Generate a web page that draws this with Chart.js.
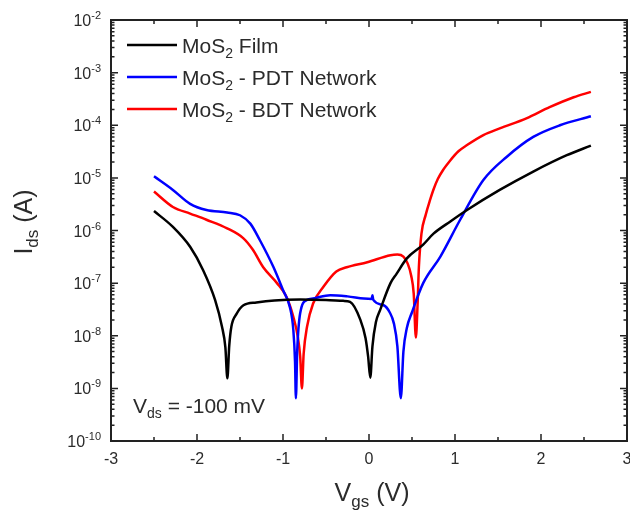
<!DOCTYPE html>
<html>
<head>
  <title>MoS2 transfer curves</title>
  <script src="https://cdn.jsdelivr.net/npm/chart.js@4.4.0/dist/chart.umd.min.js"></script>
  <style>
    body { margin: 0; background: #fff; }
    #wrap { width: 630px; height: 513px; }
  </style>
</head>
<body>
  <div id="wrap"><canvas id="chart" width="630" height="513"></canvas></div>

  <script>
// Vgs (V) and |Ids| (A)
var filmV = [-2.5, -2.28, -2.08, -1.93, -1.79, -1.71, -1.67, -1.647, -1.625, -1.6, -1.54, -1.46, -1.31, -1.1, -0.8, -0.5, -0.3, -0.22, -0.1, -0.04, -0.01, 0.015, 0.04, 0.08, 0.13, 0.25, 0.32, 0.44, 0.63, 0.75, 0.95, 1.14, 1.52, 1.91, 2.3, 2.58];
var filmI = [2.34e-6, 1.17e-6, 4.9e-7, 1.78e-7, 4.8e-8, 1.5e-8, 6.0e-9, 1.55e-9, 6.5e-9, 1.5e-8, 2.6e-8, 3.8e-8, 4.3e-8, 4.7e-8, 4.9e-8, 4.8e-8, 4.6e-8, 4.4e-8, 2.0e-8, 9.0e-9, 4.0e-9, 1.6e-9, 6.3e-9, 1.8e-8, 3.1e-8, 1.0e-7, 1.5e-7, 2.95e-7, 5.4e-7, 8.7e-7, 1.5e-6, 2.45e-6, 5.9e-6, 1.32e-5, 2.7e-5, 4.1e-5];

var pdtV = [-2.5, -2.28, -2.08, -1.89, -1.65, -1.5, -1.38, -1.27, -1.11, -1.0, -0.92, -0.88, -0.86, -0.85, -0.835, -0.8, -0.72, -0.65, -0.45, -0.25, -0.06, 0.03, 0.04, 0.05, 0.17, 0.24, 0.29, 0.33, 0.37, 0.4, 0.44, 0.5, 0.63, 0.83, 1.06, 1.33, 1.6, 1.91, 2.22, 2.58];
var pdtI = [1.07e-5, 5.9e-6, 3.2e-6, 2.45e-6, 2.2e-6, 1.95e-6, 1.35e-6, 6.6e-7, 2.0e-7, 7.4e-8, 3.5e-8, 1.3e-8, 3.2e-9, 6.5e-10, 5.0e-9, 2.7e-8, 4.8e-8, 5.1e-8, 5.9e-8, 5.6e-8, 5.1e-8, 5.0e-8, 5.9e-8, 4.8e-8, 3.8e-8, 2.8e-8, 1.7e-8, 6.3e-9, 6.5e-10, 5.0e-9, 1.4e-8, 2.8e-8, 1.0e-7, 3.2e-7, 1.6e-6, 9.1e-6, 2.5e-5, 6.0e-5, 1.0e-4, 1.48e-4];

var bdtV = [-2.5, -2.28, -2.08, -1.89, -1.65, -1.46, -1.35, -1.23, -1.07, -0.96, -0.88, -0.83, -0.8, -0.78, -0.76, -0.72, -0.65, -0.53, -0.38, -0.26, -0.02, 0.25, 0.33, 0.4, 0.45, 0.49, 0.52, 0.545, 0.565, 0.58, 0.61, 0.66, 0.71, 0.75, 0.8, 0.87, 0.94, 1.04, 1.14, 1.33, 1.52, 1.83, 2.1, 2.38, 2.58];
var bdtI = [5.5e-6, 2.8e-6, 2.1e-6, 1.6e-6, 1.1e-6, 7.1e-7, 4.3e-7, 2.0e-7, 1.0e-7, 5.5e-8, 2.3e-8, 1.0e-8, 4.0e-9, 1.0e-9, 4.5e-9, 1.5e-8, 4.1e-8, 8.5e-8, 1.66e-7, 2.0e-7, 2.5e-7, 3.4e-7, 3.5e-7, 3.2e-7, 2.35e-7, 1.4e-7, 6.3e-8, 9.3e-9, 4.0e-8, 2.0e-7, 8.7e-7, 2.0e-6, 3.8e-6, 6.0e-6, 9.5e-6, 1.48e-5, 2.1e-5, 3.2e-5, 4.2e-5, 6.5e-5, 8.7e-5, 1.35e-4, 2.2e-4, 3.4e-4, 4.3e-4];

var seriesNames = ["Film", "- PDT Network", "- BDT Network"];
var seriesColors = ["#000000", "#0000ff", "#ff0000"];
var xTicks = [-3, -2, -1, 0, 1, 2, 3];
var yExponents = [-10, -9, -8, -7, -6, -5, -4, -3, -2];

function pts(xs, ys) {
  return xs.map(function(x, i) { return { x: x, y: ys[i] }; });
}

var FONT = "'Liberation Sans', Arial, sans-serif";
var TEXT = "#2b2b2b";

// text runs with their own size and vertical shift (for sub/superscripts)
function richWidth(ctx, parts) {
  var w = 0;
  parts.forEach(function(p) {
    ctx.font = p.size + "px " + FONT;
    w += ctx.measureText(p.t).width;
  });
  return w;
}
function drawRich(ctx, parts, x, y) {
  parts.forEach(function(p) {
    ctx.font = p.size + "px " + FONT;
    ctx.fillText(p.t, x, y + (p.dy || 0));
    x += ctx.measureText(p.t).width;
  });
}

var framePlugin = {
  id: "frame",
  afterDraw: function(chart) {
    var ctx = chart.ctx;
    var a = chart.chartArea;
    var xs = chart.scales.x, ys = chart.scales.y;
    ctx.save();
    ctx.strokeStyle = "#222";
    ctx.fillStyle = TEXT;
    ctx.lineWidth = 2;
    ctx.strokeRect(a.left, a.top, a.right - a.left, a.bottom - a.top);

    // x ticks (inside, bottom and top)
    ctx.lineWidth = 1.5;
    ctx.beginPath();
    for (var v = -3; v <= 3.001; v += 0.5) {
      var px = xs.getPixelForValue(v);
      var len = Math.abs(v % 1) < 0.01 ? 7 : 4;
      ctx.moveTo(px, a.bottom); ctx.lineTo(px, a.bottom - len);
      ctx.moveTo(px, a.top); ctx.lineTo(px, a.top + len);
    }
    // y ticks (inside, left and right), major + log minors
    yExponents.forEach(function(e) {
      var py = ys.getPixelForValue(Math.pow(10, e));
      ctx.moveTo(a.left, py); ctx.lineTo(a.left + 7, py);
      ctx.moveTo(a.right, py); ctx.lineTo(a.right - 7, py);
      if (e < -2) {
        for (var m = 2; m <= 9; m++) {
          var pm = ys.getPixelForValue(m * Math.pow(10, e));
          ctx.moveTo(a.left, pm); ctx.lineTo(a.left + 3.5, pm);
          ctx.moveTo(a.right, pm); ctx.lineTo(a.right - 3.5, pm);
        }
      }
    });
    ctx.stroke();

    // x tick labels
    ctx.textAlign = "center";
    ctx.textBaseline = "alphabetic";
    ctx.font = "16px " + FONT;
    xTicks.forEach(function(t) {
      ctx.fillText(String(t), xs.getPixelForValue(t), a.bottom + 23);
    });

    // y tick labels as 10^n
    ctx.textAlign = "left";
    yExponents.forEach(function(e) {
      var py = ys.getPixelForValue(Math.pow(10, e));
      var parts = [{ t: "10", size: 16, dy: 0 }, { t: String(e), size: 11, dy: -7 }];
      var w = richWidth(ctx, parts);
      drawRich(ctx, parts, a.left - 10 - w, py + 6);
    });

    // x axis title
    var xt = [{ t: "V", size: 25 }, { t: "gs", size: 17, dy: 6 }, { t: " (V)", size: 25 }];
    var xw = richWidth(ctx, xt);
    drawRich(ctx, xt, (a.left + a.right) / 2 + 3 - xw / 2, 501);

    // y axis title (rotated)
    var yt = [{ t: "I", size: 25 }, { t: "ds", size: 17, dy: 6 }, { t: " (A)", size: 25 }];
    var yw = richWidth(ctx, yt);
    ctx.save();
    ctx.translate(32, 222);
    ctx.rotate(-Math.PI / 2);
    drawRich(ctx, yt, -yw / 2, 0);
    ctx.restore();

    // legend
    seriesNames.forEach(function(name, i) {
      var ly = 45 + i * 32;
      ctx.strokeStyle = seriesColors[i];
      ctx.lineWidth = 2.5;
      ctx.beginPath();
      ctx.moveTo(127, ly); ctx.lineTo(177, ly);
      ctx.stroke();
      drawRich(ctx, [{ t: "MoS", size: 21 }, { t: "2", size: 14, dy: 5 }, { t: " " + name, size: 21 }], 182, ly + 8);
    });

    // bias annotation
    drawRich(ctx, [{ t: "V", size: 21 }, { t: "ds", size: 14, dy: 5 }, { t: " = -100 mV", size: 21 }], 133, 413);
    ctx.restore();
  }
};

var datasets = [pts(filmV, filmI), pts(pdtV, pdtI), pts(bdtV, bdtI)].map(function(d, i) {
  return {
    label: "MoS2 " + seriesNames[i],
    data: d,
    showLine: true,
    borderColor: seriesColors[i],
    backgroundColor: seriesColors[i],
    borderWidth: 2.5,
    pointRadius: 0,
    cubicInterpolationMode: "monotone"
  };
});

new Chart(document.getElementById("chart").getContext("2d"), {
  type: "scatter",
  data: { datasets: datasets },
  options: {
    responsive: false,
    animation: false,
    layout: { padding: { top: 20, right: 3, left: 0, bottom: 0 } },
    plugins: { legend: { display: false }, tooltip: { enabled: false } },
    scales: {
      x: {
        type: "linear", min: -3, max: 3,
        ticks: { display: false }, grid: { display: false }, border: { display: false },
        afterFit: function(s) { s.height = 72; }
      },
      y: {
        type: "logarithmic", min: 1e-10, max: 1e-2,
        ticks: { display: false }, grid: { display: false }, border: { display: false },
        afterFit: function(s) { s.width = 111; }
      }
    }
  },
  plugins: [framePlugin]
});
  </script>
</body>
</html>
